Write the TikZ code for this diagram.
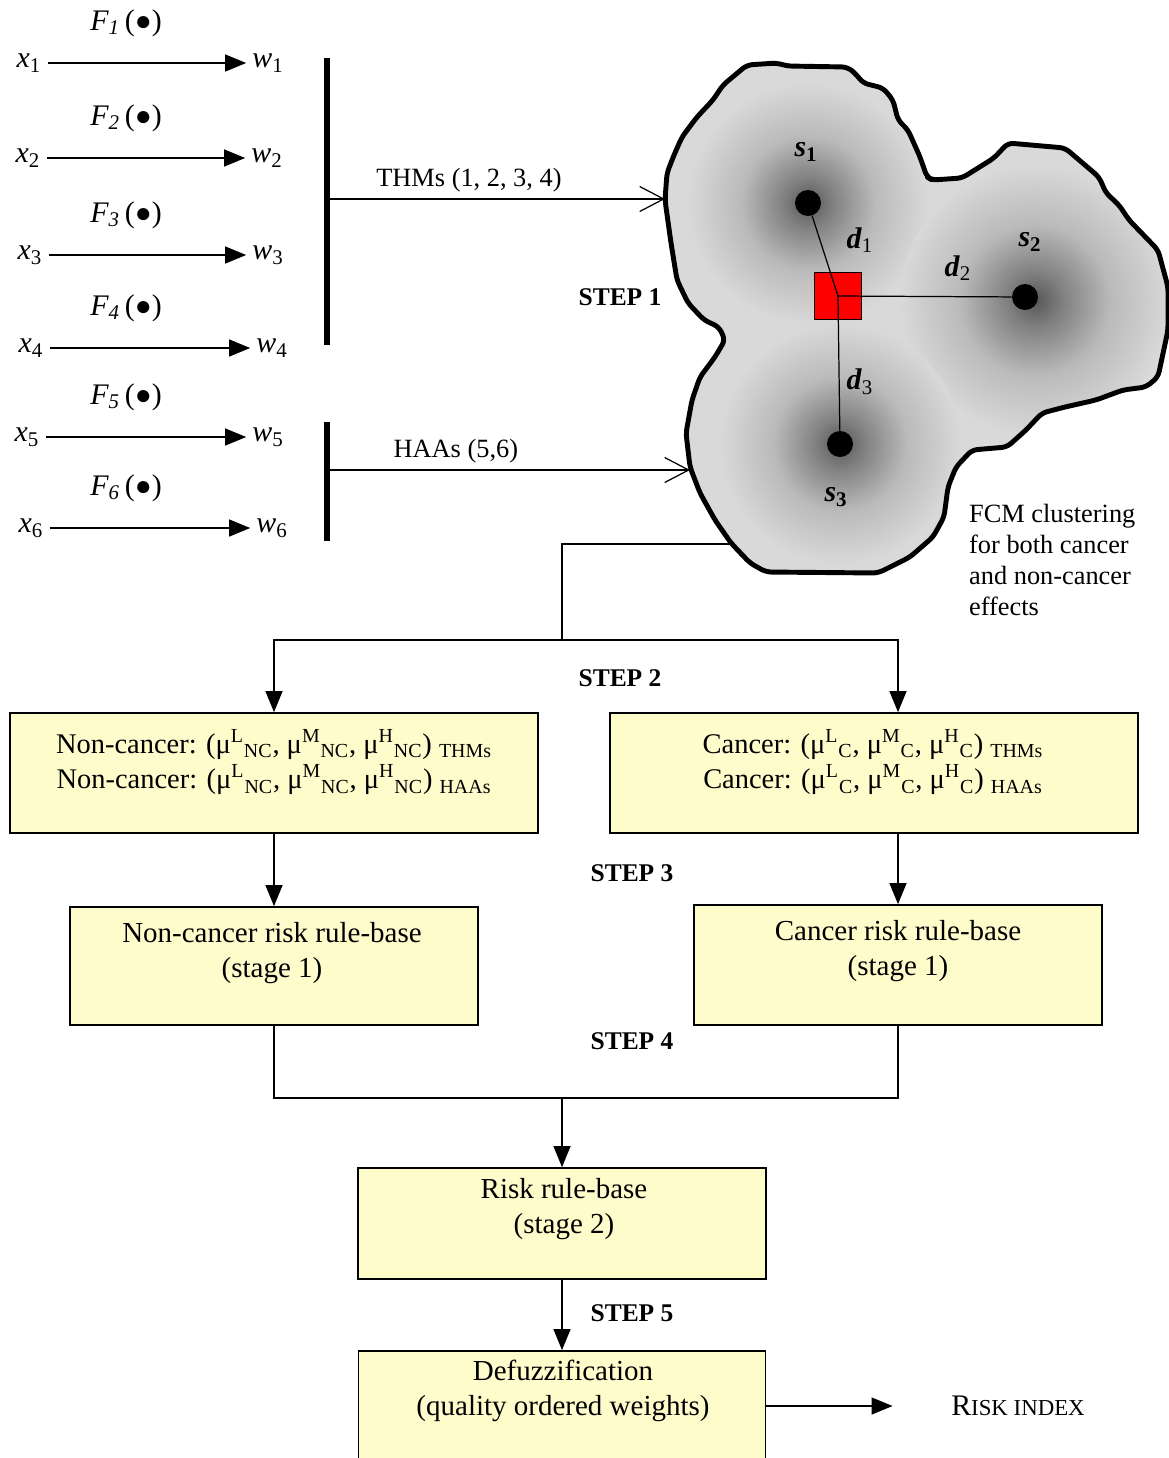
\documentclass[tikz,border=0pt]{standalone}
\usepackage{fontspec}
\setmainfont{Liberation Serif}
\usetikzlibrary{arrows.meta}
\colorlet{boxyellow}{yellow!20}
\colorlet{blobgray}{black!15}
\colorlet{spotdark}{black!66}
\colorlet{spotmid}{black!50}
\colorlet{spotlight}{black!27}
\pgfdeclareradialshading{spot}{\pgfpoint{0bp}{0bp}}{color(0bp)=(spotdark); color(5bp)=(spotmid); color(14bp)=(spotlight); color(25bp)=(blobgray); color(50bp)=(blobgray)}

\begin{document}
\begin{tikzpicture}[x=0.02cm, y=-0.02cm,
arr/.style = {-{Triangle[length=0.42cm, width=0.34cm]}, line width=0.7pt},
openarr/.style = {-{Straight Barb[length=0.48cm, width=0.5cm]}, line width=0.7pt},
conn/.style = {line width=0.7pt},
thickbar/.style = {line width=3.4pt},
blob/.style = {line width=2.8pt, line join=round},
flowbox/.style = {draw, line width=1pt, fill=boxyellow, inner sep=0pt},
txt/.style = {font=\fontsize{16.5}{20}\selectfont, align=center},
lbl/.style = {font=\fontsize{17}{20}\selectfont},
thmlbl/.style = {font=\fontsize{15}{18}\selectfont},
steplbl/.style = {font=\fontsize{14.5}{17}\selectfont\bfseries},
spotdot/.style = {circle, fill=black, inner sep=0pt, minimum size=0.52cm}]
\useasboundingbox (0,0) rectangle (1169,1458);

\foreach \i/\yy/\xx/\xw in {1/63/29/268, 2/158/28/267, 3/255/30/268, 4/348/31/272, 5/437/27/268, 6/528/31/272}{
  \node[lbl] (x\i) at (\xx,\yy) {\textit{x}\textsubscript{\i}};
  \node[lbl] (w\i) at (\xw,\yy) {\textit{w}\textsubscript{\i}};
  \node[lbl] (f\i) at (126,{\yy-40}) {\textit{F\textsubscript{\i}}\,({\fontsize{16}{16}\selectfont●})};
  \draw[arr] (x\i) -- (w\i);
}
\draw[thickbar] (327,58) -- (327,345);
\draw[thickbar] (327,422) -- (327,541);

\def\blobpath{(665,200) [rounded corners=3pt] -- (667,173) -- (674,155) -- (682,137) -- (697,117) -- (713,100)
  -- (723,85) -- (747,65) -- (777,63) -- (787,66) -- (847,67) -- (855,73) -- (863,83) -- (883,88)
  -- (893,100) -- (898,120) -- (908,130) -- (920,157) -- (927,177) -- (932,180) -- (962,178)
  -- (994,158) -- (1008,143) -- (1065,148) -- (1099,177) -- (1106,193) -- (1119,205) -- (1129,220)
  -- (1158,250) -- (1168,287) -- (1168,330) -- (1158,377) -- (1146,387) -- (1123,390) -- (1096,400)
  -- (1065,407) -- (1042,413) -- (1026,430) -- (1007,447) -- (972,450) -- (956,467) -- (948,487)
  -- (944,517) -- (933,537) -- (910,557) -- (878,573) -- (766,572) -- (750,563) -- (731,543)
  -- (715,520) -- (700,493) -- (690,467) -- (686,433) -- (692,400) -- (700,377) -- (715,357)
  -- (725,340) -- (719,327) -- (704,320) -- (688,303) -- (677,280) -- (671,243) -- cycle}
\fill[blobgray] \blobpath;
\begin{scope}
\clip \blobpath;
\shade[shading=spot] (808,203) circle (2.4cm);
\shade[shading=spot] (1035,300) circle (2.7cm);
\shade[shading=spot] (840,444) circle (2.4cm);
\end{scope}
\draw[blob] \blobpath;

\node[spotdot] (s1) at (808,203) {};
\node[spotdot] (s2) at (1025,297) {};
\node[spotdot] (s3) at (840,444) {};
\node[draw, fill=red, line width=0.5pt, minimum size=0.94cm, inner sep=0pt] (ctr) at (838,296) {};
\draw[conn] (ctr.center) -- (s1);
\draw[conn] (ctr.center) -- (s2);
\draw[conn] (ctr.center) -- (s3);
\node[lbl] at (806,152) {\textbf{\textit{s}\textsubscript{1}}};
\node[lbl] at (1030,242) {\textbf{\textit{s}\textsubscript{2}}};
\node[lbl] at (836,497) {\textbf{\textit{s}\textsubscript{3}}};
\node[lbl] at (860,240) {\textbf{\textit{d}}\textsubscript{1}};
\node[lbl] at (958,268) {\textbf{\textit{d}}\textsubscript{2}};
\node[lbl] at (860,382) {\textbf{\textit{d}}\textsubscript{3}};
\node[steplbl] at (620,297) {STEP 1};
\node[thmlbl, align=left, anchor=west, font=\fontsize{15}{17.6}\selectfont] at (963,560) {FCM clustering\\for both cancer\\and non-cancer\\effects};

\coordinate (thmsrc) at (327,199);
\coordinate (thmdst) at (665,199);
\coordinate (haasrc) at (327,470);
\coordinate (haadst) at (690,470);
\draw[openarr] (thmsrc) -- node[thmlbl, above, pos=0.42] {THMs (1, 2, 3, 4)} (thmdst);
\draw[openarr] (haasrc) -- node[thmlbl, above, pos=0.355] {HAAs (5,6)} (haadst);

\node[flowbox, minimum width=10.56cm, minimum height=2.4cm] (nc) at (274,773) {};
\node[txt, font=\fontsize{16.2}{20}\selectfont] at (274,762) {Non-cancer: (μ\textsuperscript{L}\textsubscript{NC}, μ\textsuperscript{M}\textsubscript{NC}, μ\textsuperscript{H}\textsubscript{NC}) \textsubscript{THMs}\\
  Non-cancer: (μ\textsuperscript{L}\textsubscript{NC}, μ\textsuperscript{M}\textsubscript{NC}, μ\textsuperscript{H}\textsubscript{NC}) \textsubscript{HAAs}};
\node[flowbox, minimum width=10.56cm, minimum height=2.4cm] (c) at (874,773) {};
\node[txt, font=\fontsize{16.2}{20}\selectfont] at (873,762) {Cancer: (μ\textsuperscript{L}\textsubscript{C}, μ\textsuperscript{M}\textsubscript{C}, μ\textsuperscript{H}\textsubscript{C}) \textsubscript{THMs}\\
  Cancer: (μ\textsuperscript{L}\textsubscript{C}, μ\textsuperscript{M}\textsubscript{C}, μ\textsuperscript{H}\textsubscript{C}) \textsubscript{HAAs}};
\node[flowbox, minimum width=8.16cm, minimum height=2.36cm] (ncr) at (274,966) {};
\node[txt] at (272,953) {Non-cancer risk rule-base\\(stage 1)};
\node[flowbox, minimum width=8.16cm, minimum height=2.4cm] (cr) at (898,965) {};
\node[txt] at (898,951) {Cancer risk rule-base\\(stage 1)};
\node[flowbox, minimum width=8.16cm, minimum height=2.22cm] (risk) at (562,1223.5) {};
\node[txt] at (564,1209) {Risk rule-base\\(stage 2)};
\node[flowbox, minimum width=8.14cm, minimum height=2.2cm] (defuzz) at (562,1406) {};
\node[txt] at (563,1391) {Defuzzification\\(quality ordered weights)};
\node[lbl] (ri) at (1018,1406) {R{\fontsize{13}{15}\selectfont ISK INDEX}};

\coordinate (bout) at (730,544);
\coordinate (split) at (562,640);
\coordinate (merge) at (562,1098);
\draw[conn] (bout) -| (split);
\draw[arr] (split) -| (nc);
\draw[arr] (split) -| (c.north -| cr.north);
\draw[arr] (nc) -- (ncr);
\draw[arr] (c.south -| cr.north) -- (cr);
\draw[conn] (ncr) |- (merge) -| (cr);
\draw[arr] (merge) -- (risk);
\draw[arr] (risk) -- (defuzz);
\draw[arr, shorten >=1.05cm] (defuzz) -- (ri);
\node[steplbl] at (620,678) {STEP 2};
\node[steplbl] at (632,873) {STEP 3};
\node[steplbl] at (632,1041) {STEP 4};
\node[steplbl] at (632,1313) {STEP 5};
\end{tikzpicture}
\end{document}
